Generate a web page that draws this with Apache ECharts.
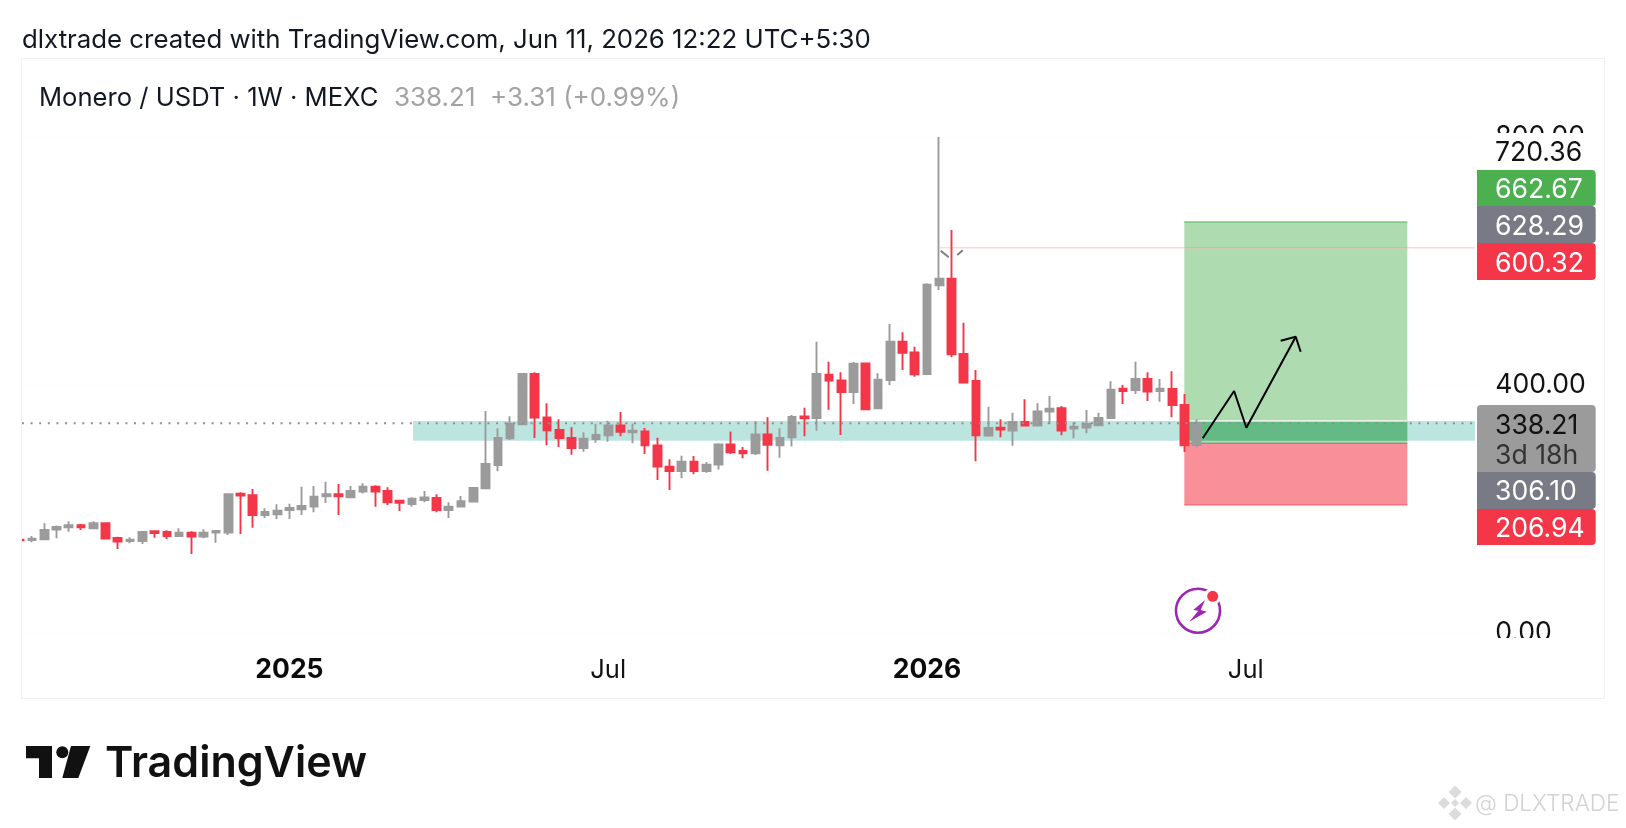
<!DOCTYPE html>
<html><head><meta charset="utf-8">
<style>html,body{margin:0;padding:0;background:#fff}#c{width:1626px;height:828px}</style>
<script src="https://cdn.jsdelivr.net/npm/echarts@6/dist/echarts.min.js"></script>
</head><body><div id="c"></div>
<script>
const opens=[150.5,150,151.1,166.7,170.5,173.7,168.8,176.9,153.3,148.4,148.4,164,162.9,156.5,161.9,155.4,161.9,161.9,224.8,222.1,190.4,191.4,198.4,199.5,203.8,220.5,223.7,218.8,228,236,229.1,213.5,208.1,214.6,217.8,198.4,203.8,211.9,233.4,271,314,336.5,417.7,347.8,327.4,314.5,298.4,312.9,318.8,334.9,323.6,325.2,302.7,268.3,261.3,276.3,261.3,271.5,304.3,293.5,289.8,320.4,302.7,315.6,349.4,346.7,416.6,407.5,388.7,434.9,362.3,408,469.9,452.7,417.7,560.7,571.5,450,406.5,318.3,331.2,326.4,340.3,334.4,357,362.4,329.6,331.2,334.9,346.8,394.1,392,409.7,390.3,393.6,367.8,303.2];
const closes=[149.5,152.2,166.2,171,173.7,170.5,176.9,152.2,147.3,150.6,162.9,161.3,156.5,161.9,155.4,161.9,164.6,223.7,221.5,190.4,195.2,197.3,201.6,204.9,219.9,223.7,220.5,229.1,236,228,210.8,210.2,216.7,218.8,198.4,203.8,212.4,233.9,272.6,314.5,337.7,417.7,347.3,326.9,314.5,298.4,313.4,319.3,334.9,324.7,326.3,302.7,268.3,261.3,276.3,261.3,271.5,304.3,291.4,289.8,320.4,303.7,314.5,348.4,346.2,417.7,407,388.7,434.4,360.7,408.6,469.9,452.1,417.2,561.8,571.5,449.5,403.8,318.8,330.6,328,340.3,334.4,357.5,361.8,326.4,332.8,337.1,346.8,392.5,390.3,409.7,389.3,394.1,367.8,302.7,338.21];
const lows=[149,146.3,150,152.7,163.5,166.2,167.8,152,135.5,144.7,143.6,153.8,151.7,156.2,127.5,152.7,145.7,158.1,159.7,169.9,185.5,183.9,183.9,190.4,194.7,209.7,190.4,218.8,224.8,203.8,206.5,196.8,203.8,210.8,194.7,185.5,202.7,211.5,232.8,260.8,311.3,336,314.5,302.7,300,287.6,292.4,307,308.6,317.2,305.9,288.7,246.7,230.6,249.4,255.9,258.6,263.9,288.7,281.7,287.1,261.8,282.8,301,317.2,326.3,360.2,319.3,369.3,360,361.3,400,424.2,413.4,417,553.2,444.6,402.7,276.9,316.7,315.6,302.2,333.9,334,337.1,318.8,314,322,334,346,369.4,385.5,374.2,373.1,347.9,292,299.5];
const highs=[151,156.5,176.9,173.2,180.1,175.8,180.1,177,155.4,154.3,164,164.5,165.6,168.8,164,167.2,166.2,224.8,226.9,232.3,201.1,207.6,208.6,236,237.1,244.1,240.4,237.1,241.4,238.2,235,214.6,218.8,229.1,223.7,210.8,221,235,358.1,330.1,349.5,418,420.4,370.4,344.6,331.7,323.6,337.6,342.4,356.4,338.1,330.6,315,280.1,286,285.5,275.8,305.9,325.2,300,341.4,347.8,330.1,351.6,363.4,469.9,437.6,420.4,437,435.5,418.8,498.3,484.9,461.8,564,800,650,500.5,424.2,365,344.6,355.4,376.9,370.4,382.3,366.1,339.8,359.7,355.4,405.9,400,437.6,420.4,409.7,422,385.5,344.6];
const categories=[];
{const d=new Date(Date.UTC(2024,7,5));for(let i=0;i<120;i++){categories.push(d.toISOString().slice(0,10));d.setUTCDate(d.getUTCDate()+7);}}
const tickLabels={'2025-01-06':'{y|2025}','2025-07-07':'{m|Jul}','2026-01-05':'{y|2026}','2026-07-06':'{m|Jul}'};
const yTicks=[0,400,800];
const lastPrice=338.21;
const zone=[32.58,119.2,342,310];
const longBox=[95.49,113.68,662.67,306.1];
const riskBox=[95.49,113.68,306.1,206.94];
const zoneOverlap=[95.49,113.68,342,310];
const forecast=[[96.99,314],[99.55,390.3],[100.55,331.1],[104.58,477.9]];
const arrowHead=[[103.35,471.5],[104.58,477.9],[104.98,453.7]];
const pivotLine=[[75.56,621.5],[119.2,621.5]];
const pivotTicks=[[75.62,616.6],[76.27,606],null,[76.97,609.7],[77.42,617.3]];
const FONT='Inter';
const GRAY='#9B9B9B',RED='#F33648';

function rectSeries(name,box,color,z,edge){
  return {name,type:'custom',coordinateSystem:'cartesian2d',xAxisIndex:1,yAxisIndex:0,z,silent:true,clip:false,
    encode:{x:[0,1],y:[2,3]},data:[box],
    renderItem(p,api){
      const a=api.coord([api.value(0),api.value(2)]),b=api.coord([api.value(1),api.value(3)]);
      const kids=[{type:'rect',shape:{x:a[0],y:a[1],width:b[0]-a[0],height:b[1]-a[1]},style:{fill:color}}];
      if(edge){const y=edge.at==='top'?a[1]:b[1];kids.push({type:'line',shape:{x1:a[0],y1:y,x2:b[0],y2:y},style:{stroke:edge.color,lineWidth:edge.w||1.6}});}
      return {type:'group',children:kids};
    }};
}
function pathSeries(name,pts,color,w,z,type){
  return {name,type:'line',xAxisIndex:1,yAxisIndex:0,data:pts.map(p=>p===null?[null,null]:p),showSymbol:false,symbol:'none',silent:true,z,clip:false,connectNulls:false,
    lineStyle:{color,width:w,type:type||'solid',cap:'butt'},animation:false};
}
const option={
  animation:false,backgroundColor:'#fff',
  grid:{left:13.61,top:137,width:1471.2,height:496,containLabel:false},
  xAxis:[
   {type:'category',data:categories,boundaryGap:true,axisLine:{show:false},axisTick:{show:false},splitLine:{show:false},
    axisLabel:{interval:0,margin:24,hideOverlap:false,formatter:v=>tickLabels[v]||'',
      rich:{y:{fontFamily:FONT,fontSize:26.5,fontWeight:'bold',color:'#0b0b0b'},m:{fontFamily:FONT,fontSize:25.5,color:'#131313'}}}},
   {type:'value',min:0,max:120,show:false,splitLine:{show:false}}
  ],
  yAxis:[{type:'value',position:'right',min:yTicks[0],max:yTicks[2],interval:400,
    axisLine:{show:false},axisTick:{show:false},splitLine:{show:true,lineStyle:{color:'#fcfcfc',width:1}},
    axisLabel:{margin:10.4,padding:[3,0,0,0],fontFamily:FONT,fontSize:26.6,color:'#131313',formatter:v=>v.toFixed(2),align:'left',showMinLabel:true,showMaxLabel:true,alignMinLabel:'left',alignMaxLabel:'left'}}],
  series:[
    rectSeries('zone',zone,'#BDE5E0',1),
    rectSeries('long',longBox,'#AEDBB0',2,{at:'top',color:'#84C888'}),
    rectSeries('risk',riskBox,'#F98F98',2,{at:'bottom',color:'#F7727C'}),
    rectSeries('overlap',zoneOverlap,'#63BA85',3,{at:'top',color:'#E3F3E3',w:1.8}),
    pathSeries('entry',[[95.49,306.1],[113.68,306.1]],'#787B86',1,4),
    pathSeries('pivot',pivotLine,'#FFD6DA',1.5,3),
    pathSeries('pivot2',[[95.49,621.5],[113.68,621.5]],'#BDC6A0',1.5,3),
    {name:'XMR',type:'candlestick',xAxisIndex:0,yAxisIndex:0,z:6,barWidth:8.2,
     data:opens.map((o,i)=>[o,closes[i],lows[i],highs[i]]),
     itemStyle:{color:GRAY,color0:RED,borderColor:GRAY,borderColor0:RED,borderWidth:1.9}},
    pathSeries('last',[[0.68,lastPrice],[119.2,lastPrice]],'#8e9095',2,7,[2,6.62]),
    pathSeries('pivotTicks',pivotTicks,'#787B86',1.8,8),
    pathSeries('forecast',forecast,'#000',2,9),
    pathSeries('arrow',arrowHead,'#000',2,9)
  ],
  graphic:[]
};
const g=option.graphic;
function txt(x,y,s,fs,fill,extra){g.push({type:'text',z:100,silent:true,style:Object.assign({x,y,text:s,fontFamily:FONT,fontSize:fs,fill,textVerticalAlign:'middle',textBaseline:'middle'},extra||{})});}
function box(x,y,w,h,fill,r){g.push({type:'rect',z:90,silent:true,shape:{x,y,width:w,height:h,r:r||0},style:{fill}});}
function poly(pts,fill){g.push({type:'polygon',z:100,silent:true,shape:{points:pts},style:{fill}});}
// covers that clip the price pane
box(0,125,21,520,'#fff');
box(1488,638,116,16,'#fff');
g.push({type:'rect',z:95,silent:true,shape:{x:21.5,y:58.5,width:1583,height:640},style:{fill:'none',stroke:'#f1f1f1',lineWidth:1}});
// header
txt(22,40.5,'dlxtrade created with TradingView.com, Jun 11, 2026 12:22 UTC+5:30',25.8,'#131722');
txt(39,98,'Monero / USDT · 1W · MEXC',25.6,'#131722');
txt(394,98,'338.21',26,'#a3a3a3');
txt(490,98,'+3.31 (+0.99%)',26,'#a3a3a3');
// price tags
const TS=26.6;
const tagText=['720.36','662.67','628.29','600.32','338.21','3d 18h','306.10','206.94'];
box(1477,133,118,37,'#fff');
txt(1495,153,tagText[0],TS,'#131313');
box(1477,170,118.7,36,'#4CAF50',[0,4,4,0]);txt(1495,190,tagText[1],TS,'#fff');
box(1477,206,118.7,37,'#787B86',[0,4,4,0]);txt(1495,226.5,tagText[2],TS,'#fff');
box(1477,243,118.7,37,RED,[0,4,4,0]);txt(1495,263.5,tagText[3],TS,'#fff');
box(1477,405,118.7,67,GRAY,[4,4,4,0]);txt(1495,425.5,tagText[4],TS,'#111');txt(1495,455.5,tagText[5],TS,'#333');
box(1477,472,118.7,37,'#787B86',[0,4,4,0]);txt(1495,492,tagText[6],TS,'#fff');
box(1477,509,118.7,36,RED,[0,4,4,0]);txt(1495,528.8,tagText[7],TS,'#fff');
// alert icon
g.push({type:'circle',z:100,silent:true,shape:{cx:1198,cy:610.7,r:22},style:{fill:'none',stroke:'#9C27B0',lineWidth:2.6}});
g.push({type:'circle',z:101,silent:true,shape:{cx:1212.7,cy:596.3,r:8.5},style:{fill:'#fff'}});
g.push({type:'circle',z:102,silent:true,shape:{cx:1212.7,cy:596.3,r:5.5},style:{fill:RED}});
poly([[1205,600],[1193.3,610],[1198.3,610.7],[1189.3,621.7],[1206.7,611.7],[1200.7,610]],'#9C27B0');
// TradingView logo
poly([[26,746],[52,746],[52,778],[39,778],[39,758.3],[26,758.3]],'#111');
g.push({type:'circle',z:100,silent:true,shape:{cx:62.3,cy:752.3,r:6},style:{fill:'#111'}});
poly([[71,746],[90.3,746],[78.3,778],[62.3,778]],'#111');
txt(105,764,'TradingView',43,'#111',{fontWeight:600});
// watermark
const wm='#dcdcdc';
[[1455,792,6.5],[1444,803,6],[1466,803,6],[1455,803,4],[1455,814,6.5]].forEach(([x,y,r])=>poly([[x,y-r],[x+r,y],[x,y+r],[x-r,y]],wm));
txt(1475,804,'@ DLXTRADE',22.5,'#d2d2d2',{fontWeight:300});
echarts.init(document.getElementById('c'),null,{renderer:'canvas'}).setOption(option);
</script></body></html>
